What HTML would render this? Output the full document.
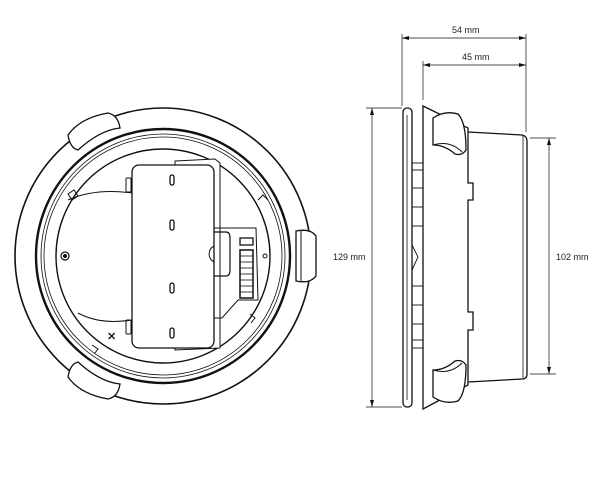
<!DOCTYPE html>
<html><head><style>
html,body{margin:0;padding:0;background:#fff;}
svg{display:block;}
text{font-family:"Liberation Sans",sans-serif;font-size:9px;fill:#222;stroke:none;}
</style></head><body>
<svg width="612" height="481" viewBox="0 0 612 481" xmlns="http://www.w3.org/2000/svg" fill="none" stroke="#111" stroke-width="1">
<!-- LEFT: front view -->
<circle cx="163" cy="256" r="148" stroke-width="1.6"/>
<circle cx="163" cy="256" r="127" stroke-width="2.4"/>
<circle cx="163" cy="256" r="122" stroke-width="0.8"/>
<circle cx="163" cy="256" r="119" stroke-width="0.8"/>
<circle cx="163" cy="256" r="107" stroke-width="1.4"/>
<!-- half-disc behind card -->
<path d="M 68 200 Q 95 188 132 193" stroke-width="1"/>
<path d="M 78 313 Q 100 325 132 320" stroke-width="1"/>
<circle cx="65" cy="256" r="4" stroke-width="1.2"/>
<circle cx="65" cy="256" r="1.5" fill="#111"/>
<!-- rear card -->
<path d="M 175 161 L 215 159 L 220 163 L 220 348 L 175 350 Z" fill="#fff"/>
<!-- card -->
<rect x="132" y="165" width="82" height="183" rx="7" fill="#fff" stroke-width="1.3"/>
<rect x="126" y="178" width="5" height="14" rx="1"/>
<rect x="126" y="320" width="5" height="14" rx="1"/>
<g fill="#fff" stroke-width="1.3">
<rect x="170" y="175" width="4" height="10" rx="2"/>
<rect x="170" y="220" width="4" height="10" rx="2"/>
<rect x="170" y="283" width="4" height="10" rx="2"/>
<rect x="170" y="328" width="4" height="10" rx="2"/>
</g>
<!-- connector area -->
<path d="M 214 228 L 256 228 L 258 300 L 238 300 L 222 318 L 214 318" stroke-width="1"/>
<path d="M 214 232 L 226 232 Q 230 232 230 238 L 230 270 Q 230 276 226 276 L 214 276" stroke-width="1.2"/>
<path d="M 214 246 A 9 9 0 0 0 214 262" stroke-width="1"/>
<rect x="240" y="238" width="13" height="7" stroke-width="1.3"/>
<rect x="240" y="250" width="13" height="48" stroke-width="1.5"/>
<g stroke-width="0.8"><line x1="240" y1="256" x2="253" y2="256"/><line x1="240" y1="262" x2="253" y2="262"/><line x1="240" y1="268" x2="253" y2="268"/><line x1="240" y1="274" x2="253" y2="274"/><line x1="240" y1="280" x2="253" y2="280"/><line x1="240" y1="286" x2="253" y2="286"/><line x1="240" y1="292" x2="253" y2="292"/></g>
<circle cx="265" cy="256" r="2"/>
<!-- small tabs on ring -->
<path d="M 68 194 l 6 -4 l 4 6 l -6 4 z"/><path d="M 258 200 l 5 -5 l 5 5"/><path d="M 250 314 l 5 4 l -4 5"/><path d="M 92 345 l 6 4 l -3 4"/>
<text x="107" y="340" style="font-size:11px;font-weight:bold">✕</text>
<!-- clips -->
<path d="M 68 135 Q 80 118 108 113 Q 118 115 120 128 Q 100 130 78 150 Q 70 148 68 135 Z" fill="#fff" stroke-width="1.3"/>
<path d="M 68 377 Q 80 394 108 399 Q 118 397 120 384 Q 100 382 78 362 Q 70 364 68 377 Z" fill="#fff" stroke-width="1.3"/>
<path d="M 296 231 Q 310 228 316 236 L 316 276 Q 310 284 296 281 Z" fill="#fff" stroke-width="1.3"/>
<line x1="301" y1="230" x2="301" y2="282"/>

<!-- RIGHT: side view -->
<rect x="403" y="108" width="9" height="299" rx="4" stroke-width="1.3"/>
<line x1="407" y1="115" x2="407" y2="400" stroke-width="0.8"/>
<path d="M 423 106 L 468 128 L 468 183 L 473 183 L 473 200 L 468 200 L 468 312 L 473 312 L 473 330 L 468 330 L 468 385 L 423 409 Z" stroke-width="1.3"/>
<path d="M 468 132 L 522 135 Q 527 136 527 141 L 527 374 Q 527 379 522 379 L 468 382" stroke-width="1.3"/>
<line x1="523" y1="136" x2="523" y2="378" stroke-width="0.8"/>
<!-- side tabs -->
<g stroke-width="0.9">
<line x1="412" y1="163" x2="423" y2="163"/><line x1="412" y1="170" x2="423" y2="170"/><line x1="412" y1="188" x2="423" y2="188"/><line x1="412" y1="207" x2="423" y2="207"/><line x1="412" y1="226" x2="423" y2="226"/>
<path d="M 412 245 L 418 257 L 412 270"/>
<line x1="412" y1="286" x2="423" y2="286"/><line x1="412" y1="305" x2="423" y2="305"/><line x1="412" y1="324" x2="423" y2="324"/><line x1="412" y1="340" x2="423" y2="340"/><line x1="412" y1="348" x2="423" y2="348"/>
</g>
<!-- side clips -->
<path d="M 433 118 Q 445 110 458 114 Q 466 122 466 150 Q 462 156 455 154 Q 445 145 433 145 Z" fill="#fff" stroke-width="1.3"/>
<path d="M 433 145 Q 450 140 462 152"/>
<path d="M 433 397 Q 445 405 458 401 Q 466 393 466 365 Q 462 359 455 361 Q 445 370 433 370 Z" fill="#fff" stroke-width="1.3"/>
<path d="M 433 370 Q 450 375 462 363"/>

<!-- dimensions -->
<g stroke-width="0.7">
<line x1="402" y1="34" x2="402" y2="106"/>
<line x1="423" y1="61" x2="423" y2="100"/>
<line x1="526" y1="34" x2="526" y2="132"/>
<line x1="402" y1="38" x2="526" y2="38"/>
<line x1="423" y1="65" x2="526" y2="65"/>
<line x1="366" y1="108" x2="402" y2="108"/>
<line x1="366" y1="407" x2="402" y2="407"/>
<line x1="372" y1="108" x2="372" y2="407"/>
<line x1="530" y1="138" x2="556" y2="138"/>
<line x1="530" y1="374" x2="556" y2="374"/>
<line x1="549" y1="138" x2="549" y2="374"/>
</g>
<g fill="#111" stroke="none">
<path d="M402 38 l7 -2 l0 4 z"/><path d="M526 38 l-7 -2 l0 4 z"/>
<path d="M423 65 l7 -2 l0 4 z"/><path d="M526 65 l-7 -2 l0 4 z"/>
<path d="M372 108 l-2 7 l4 0 z"/><path d="M372 407 l-2 -7 l4 0 z"/>
<path d="M549 138 l-2 7 l4 0 z"/><path d="M549 374 l-2 -7 l4 0 z"/>
</g>
<text x="452" y="33">54 mm</text>
<text x="462" y="60">45 mm</text>
<text x="333" y="260">129 mm</text>
<text x="556" y="260">102 mm</text>
</svg>
</body></html>
